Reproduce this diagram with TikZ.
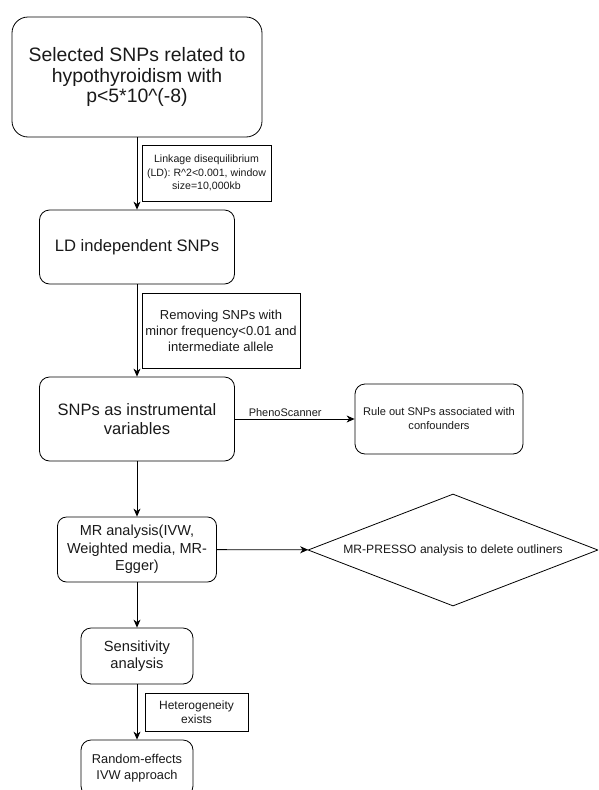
\documentclass[tikz,border=0pt]{standalone}
\usepackage{fontspec}
\setmainfont{Liberation Sans}
\usetikzlibrary{arrows.meta,shapes.geometric}

\begin{document}
\begin{tikzpicture}[x=1pt,y=-1pt,
    line width=0.8pt,
    stepbox/.style={draw,rounded corners=10pt,align=center,inner sep=0pt,text=black!90},
    notebox/.style={draw,rectangle,align=center,inner sep=0pt,text=black!90},
    flow/.style={-{Stealth[length=8pt,width=7pt,inset=2.5pt]}}]
  \clip (0,0) rectangle (598,790);

  \node[stepbox,rounded corners=16pt,minimum width=250pt,minimum height=120pt,
    font=\fontsize{19.4}{20.2}\selectfont] (snps) at (137,77)
    {Selected SNPs related to\\hypothyroidism with\\p<5*10\textasciicircum(-8)};
  \node[stepbox,minimum width=195pt,minimum height=74pt,
    font=\fontsize{16.6}{19}\selectfont] (ldind) at (137,247) {LD independent SNPs};
  \node[stepbox,minimum width=195pt,minimum height=84pt,
    font=\fontsize{16.5}{19.5}\selectfont] (ivs) at (137,419)
    {SNPs as instrumental\\variables};
  \node[stepbox,minimum width=168pt,minimum height=70pt,
    font=\fontsize{11.1}{14}\selectfont] (ruleout) at (439,419)
    {Rule out SNPs associated with\\confounders};
  \node[stepbox,rounded corners=9pt,minimum width=159pt,minimum height=65pt,
    font=\fontsize{14.5}{17.5}\selectfont] (mr) at (137,549.5)
    {MR analysis(IVW,\\Weighted media, MR-\\Egger)};
  \node[draw,diamond,aspect=2.6,inner sep=0pt,minimum width=290pt,minimum height=112pt,
    font=\fontsize{12.1}{14}\selectfont,text=black!90] (presso) at (453,550)
    {MR-PRESSO analysis to delete outliners};
  \node[stepbox,minimum width=112pt,minimum height=56pt,
    font=\fontsize{14.7}{17.5}\selectfont] (sens) at (137,656)
    {Sensitivity\\analysis};
  \node[stepbox,minimum width=112pt,minimum height=56pt,
    font=\fontsize{12.8}{15.5}\selectfont] (random) at (137,768)
    {Random-effects\\IVW approach};

  \node[notebox,minimum width=129pt,minimum height=56pt,
    font=\fontsize{10.6}{13.5}\selectfont] (ldnote) at (206.5,173)
    {Linkage disequilibrium\\(LD): R\textasciicircum 2<0.001, window\\size=10,000kb};
  \node[notebox,minimum width=158pt,minimum height=75pt,
    font=\fontsize{13}{16}\selectfont] (mafnote) at (221,330.5)
    {Removing SNPs with\\minor frequency<0.01 and\\intermediate allele};
  \node[notebox,minimum width=103pt,minimum height=38pt,
    font=\fontsize{12}{14.5}\selectfont] (hetnote) at (196.5,712)
    {Heterogeneity\\exists};

  \draw[flow] (snps) -- (ldind);
  \draw[flow] (ldind) -- (ivs);
  \draw[flow] (ivs) -- (mr);
  \draw[flow] (mr) -- (sens);
  \draw[flow] (sens) -- (random);
  \draw[flow] (mr) -- (presso);
  \draw[flow] (ivs.east) -- (ruleout.west) node[pos=0.42,above=2pt,inner sep=0pt,
    font=\fontsize{11}{13}\selectfont,text=black!90] (pheno) {PhenoScanner};
\end{tikzpicture}
\end{document}
